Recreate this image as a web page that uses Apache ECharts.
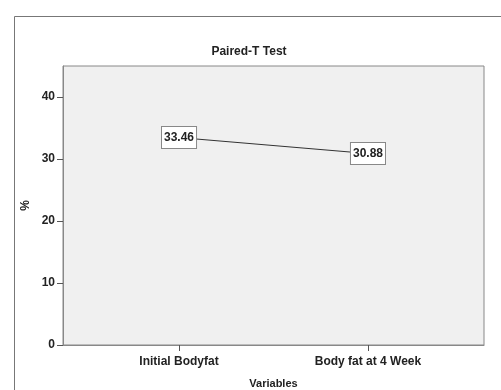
<!DOCTYPE html>
<html><head><meta charset="utf-8">
<script src="https://cdn.jsdelivr.net/npm/echarts@6/dist/echarts.min.js"></script>
<style>html,body{margin:0;padding:0;background:#fff}#c{width:501px;height:390px}</style>
</head><body><div id="c"></div>
<script>
const categories = ['Initial Bodyfat', 'Body fat at 4 Week'];
const values = [33.46, 30.88];
const yTicks = [0, 10, 20, 30, 40];
const positions = [1, 2];

const chart = echarts.init(document.getElementById('c'), null, {renderer: 'canvas'});
const font = 'Liberation Sans, Arial, sans-serif';
chart.setOption({
  animation: false,
  graphic: [{type: 'rect', left: 12, top: 14, shape: {width: 520, height: 420}, style: {fill: 'none', stroke: '#777', lineWidth: 1}, z: -1}],
  title: {text: 'Paired-T Test', left: 244, top: 41, textAlign: 'center',
    textStyle: {fontFamily: font, fontSize: 12, fontWeight: 'bold', color: '#222'}},
  grid: {left: 63, right: 17, top: 66, bottom: 45, show: true, backgroundColor: '#f0f0f0', borderColor: '#888', borderWidth: 1,
    outerBoundsMode: 'none', containLabel: false},
  xAxis: {type: 'value', min: 0.386, max: 2.614,
    name: 'Variables', nameLocation: 'middle', nameGap: 33, nameMoveOverlap: false,
    nameTextStyle: {fontFamily: font, fontSize: 11, fontWeight: 'bold', color: '#222'},
    axisLine: {show: true, lineStyle: {color: '#888'}},
    axisTick: {show: true, length: 6, lineStyle: {color: '#555'}, customValues: positions},
    axisLabel: {customValues: positions, formatter: v => categories[Math.round(v) - 1] || '', margin: 11,
      fontFamily: font, fontSize: 12, fontWeight: 'bold', color: '#222'},
    splitLine: {show: false}},
  yAxis: {type: 'value', min: 0, max: 45,
    name: '%', nameLocation: 'middle', nameGap: 31, nameRotate: 90, nameMoveOverlap: false,
    nameTextStyle: {fontFamily: font, fontSize: 12, fontWeight: 'bold', color: '#222'},
    axisLine: {show: true, lineStyle: {color: '#888'}},
    axisTick: {show: true, length: 6, lineStyle: {color: '#555'}, customValues: yTicks},
    axisLabel: {customValues: yTicks, margin: 8, fontFamily: font, fontSize: 12, fontWeight: 'bold', color: '#222'},
    splitLine: {show: false}},
  series: [{type: 'line', data: values.map((v, i) => [positions[i], v]),
    symbol: 'circle', symbolSize: 1, showSymbol: true, itemStyle: {color: 'rgba(0,0,0,0)'},
    lineStyle: {color: '#333', width: 1},
    label: {show: true, position: 'inside', formatter: p => p.value[1].toFixed(2),
      backgroundColor: '#fff', borderColor: '#888', borderWidth: 1, padding: [5, 2, 4, 2],
      fontFamily: font, fontSize: 12, fontWeight: 'bold', color: '#222'}}]
});
</script></body></html>
